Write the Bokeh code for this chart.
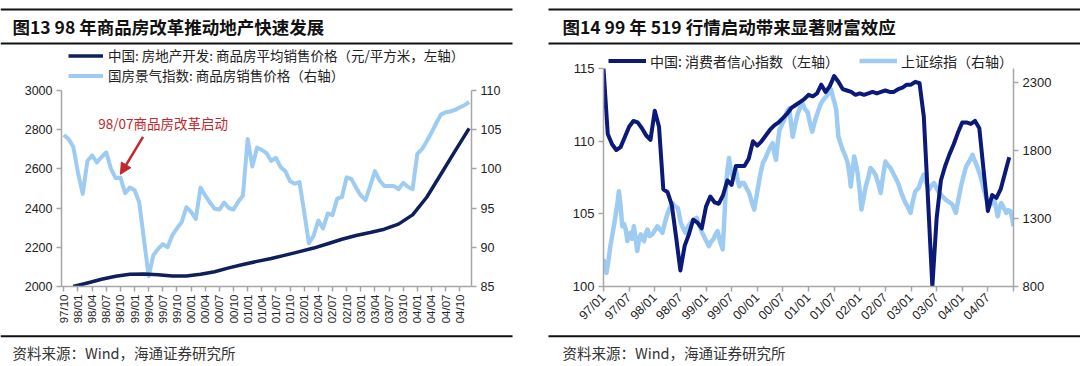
import math
from bokeh.plotting import figure
from bokeh.models import (Range1d, LinearAxis, FixedTicker, Label, BoxAnnotation,
                          Legend, LegendItem, Arrow, NormalHead)
from bokeh.layouts import row, column
from bokeh.embed import file_html
from bokeh.resources import INLINE

# ---------------- data: left chart (monthly, 97/10 .. 04/12) ----------------
left_tick_labels = ["97/10", "98/01", "98/04", "98/07", "98/10", "99/01", "99/04", "99/07",
                    "99/10", "00/01", "00/04", "00/07", "00/10", "01/01", "01/04", "01/07",
                    "01/10", "02/01", "02/04", "02/07", "02/10", "03/01", "03/04", "03/07",
                    "03/10", "04/01", "04/04", "04/07", "04/10"]
left_months = list(range(87))
house_index = [104.3, 103.8, 102.8, 99.5, 96.8, 101.0, 101.7, 100.8, 101.5, 102.1,
               100.0, 98.8, 98.9, 96.9, 97.6, 97.3, 95.7, 91.0, 86.3, 89.0,
               89.8, 90.4, 90.0, 91.5, 92.4, 93.2, 95.1, 94.5, 93.6, 97.6,
               96.6, 95.7, 94.9, 94.8, 95.7, 95.0, 94.8, 95.8, 96.6, 103.8,
               100.3, 102.7, 102.4, 102.0, 101.0, 101.4, 100.2, 99.7, 98.4, 98.1,
               98.3, 94.5, 90.5, 91.5, 93.4, 92.4, 94.3, 94.1, 96.2, 96.4,
               98.9, 98.7, 97.6, 96.6, 96.0, 97.8, 99.7, 98.5, 97.8, 97.8,
               97.8, 97.4, 98.2, 97.7, 97.4, 101.9, 102.5, 103.5, 104.6, 105.8,
               106.9, 107.2, 107.3, 107.5, 107.8, 108.1, 108.5]
price_months = [2, 5, 8, 11, 14, 17, 20, 23, 26, 29, 32, 35, 38, 41, 44, 47, 50, 53, 56,
                59, 62, 65, 68, 71, 74, 77, 80, 83, 86]
avg_price = [2000, 2018, 2037, 2052, 2062, 2064, 2060, 2054, 2053, 2062, 2075, 2095, 2112,
             2128, 2143, 2160, 2178, 2196, 2218, 2241, 2260, 2275, 2292, 2318, 2365, 2455,
             2572, 2690, 2806]

# ---------------- data: right chart (months since 97/01) ----------------
right_tick_labels = ["97/01", "97/07", "98/01", "98/07", "99/01", "99/07", "00/01", "00/07",
                     "01/01", "01/07", "02/01", "02/07", "03/01", "03/07", "04/01", "04/07"]
cci_months = list(range(96))
cci = [115.0, 110.5, 109.8, 109.4, 109.6, 110.3, 111.0, 111.4, 111.3, 110.9,
       110.4, 110.1, 112.1, 111.0, 106.7, 106.5, 105.6, 103.4, 101.1, 102.8,
       103.6, 104.6, 104.4, 104.0, 105.5, 106.2, 105.8, 105.7, 106.3, 107.3,
       107.0, 108.3, 108.3, 108.3, 108.8, 110.0, 109.7, 110.0, 110.4, 110.8,
       111.1, 111.3, 111.6, 111.9, 112.3, 112.5, 112.7, 112.9, 113.2, 113.1,
       113.3, 113.9, 113.4, 113.8, 114.5, 114.1, 113.6, 113.5, 113.4, 113.2,
       113.3, 113.2, 113.3, 113.4, 113.3, 113.4, 113.5, 113.4, 113.4, 113.6,
       113.7, 113.9, 113.9, 114.1, 114.0, 111.7, 105.9, 100.0, 104.7, 107.3,
       108.3, 109.1, 109.8, 110.6, 111.3, 111.3, 111.2, 111.4, 110.9, 108.0,
       105.2, 106.3, 106.1, 106.7, 107.8, 108.9]
sse_months = [0.0, 0.4, 0.7, 1.2, 1.6, 2.2, 2.8, 3.3, 3.6, 4.0, 4.4, 4.8, 5.2, 5.6, 6.0, 6.3,
              6.7, 7.1, 7.5, 7.9, 8.3, 8.7, 9.1, 9.5, 9.9, 10.3, 10.8, 11.4, 12.0, 12.6, 13.2,
              13.8, 14.3, 14.8, 15.4, 16.1, 16.7, 17.4, 18.1, 18.6, 19.2, 19.8, 20.4, 21.1,
              21.8, 22.4, 23.1, 23.8, 24.7, 25.2, 25.7, 26.2, 26.7, 27.3, 27.9, 28.3, 28.6,
              29.0, 29.4, 29.8, 30.2, 30.6, 31.0, 31.4, 31.8, 32.4, 32.9, 33.5, 34.1, 34.7,
              35.3, 35.7, 36.1, 36.7, 37.3, 37.9, 38.4, 39.0, 39.6, 40.0, 40.4, 40.8, 41.2,
              41.8, 42.3, 42.9, 43.5, 43.9, 44.3, 44.9, 45.5, 46.0, 46.6, 47.2, 47.8, 48.4,
              48.9, 49.3, 49.7, 50.3, 50.9, 51.5, 52.1, 52.9, 53.3, 53.7, 54.1, 54.5, 55.0,
              55.5, 56.0, 56.6, 57.2, 57.6, 57.9, 58.3, 58.7, 59.1, 59.5, 60.0, 60.4, 60.9,
              61.4, 62.0, 62.5, 63.1, 63.7, 64.3, 64.9, 65.5, 66.0, 66.6, 67.2, 68.0, 68.8,
              69.2, 69.6, 70.2, 70.7, 71.3, 71.9, 72.4, 73.0, 73.4, 73.8, 74.4, 75.0, 75.6,
              76.2, 76.8, 77.4, 78.0, 78.6, 79.4, 80.1, 80.9, 81.7, 82.1, 82.5, 83.1, 83.7,
              84.3, 84.9, 85.6, 86.0, 86.4, 86.8, 87.2, 87.8, 88.3, 88.9, 89.5, 89.9, 90.3,
              90.9, 91.5, 91.9, 92.3, 92.7, 93.1, 93.7, 94.3, 94.8, 95.3, 95.7, 96.0]
sse = [1000, 930, 900, 1000, 1096, 1200, 1315, 1420, 1498, 1390, 1242, 1260, 1218, 1133, 1180,
       1194, 1150, 1242, 1160, 1060, 1140, 1182, 1150, 1133, 1190, 1218, 1170, 1182, 1210, 1242,
       1220, 1194, 1260, 1315, 1370, 1413, 1390, 1377, 1267, 1230, 1194, 1240, 1267, 1290,
       1304, 1250, 1194, 1150, 1096, 1130, 1145, 1180, 1206, 1130, 1072, 1300, 1486,
       1650, 1742, 1650, 1607, 1640, 1656, 1580, 1534, 1560, 1559, 1520, 1486, 1420,
       1364, 1440, 1510, 1620, 1705, 1740, 1778, 1820, 1851, 1780, 1729, 1860, 1948,
       1990, 2021, 2080, 2107, 2000, 1899, 1990, 2070, 2110, 2143, 2100, 2080, 1990,
       1936, 1990, 2034, 2090, 2143, 2170, 2191, 2228, 2245, 2191, 2150, 2094, 1899,
       1850, 1802, 1760, 1705, 1620, 1534, 1650, 1753, 1700, 1632, 1500, 1364, 1450,
       1534, 1600, 1669, 1650, 1620, 1560, 1486, 1620, 1717, 1690, 1669, 1620, 1571,
       1540, 1498, 1450, 1413, 1380, 1340, 1420, 1498, 1510, 1523, 1580, 1620, 1560,
       1510, 1540, 1559, 1520, 1486, 1460, 1437, 1420, 1401, 1370, 1340, 1440, 1534,
       1610, 1680, 1717, 1740, 1766, 1730, 1705, 1650, 1607, 1530, 1461, 1420, 1388,
       1410, 1437, 1380, 1315, 1370, 1413, 1380, 1340, 1360, 1352, 1300, 1242]

titles = ["图13 98 年商品房改革推动地产快速发展", "图14 99 年 519 行情启动带来显著财富效应"]
source_text = "资料来源：Wind，海通证券研究所"

DARK_L = "#0E1F5B"
DARK_R = "#0B1A78"
LIGHT = "#9DCBF2"
AXIS = "#A6A6A6"
TXT = "#222222"
CJK = "Noto Sans CJK SC"
W = 1080


def style_axis(ax, size="12.5px"):
    ax.axis_line_color = AXIS
    ax.axis_line_width = 1.5
    ax.major_tick_line_color = AXIS
    ax.major_tick_line_width = 1.5
    ax.major_tick_out = 5
    ax.major_tick_in = 0
    ax.minor_tick_line_color = None
    ax.major_label_text_font = "Liberation Sans"
    ax.major_label_text_font_size = size
    ax.major_label_text_color = TXT
    ax.major_label_standoff = 4


def blank_fig(h, y_top_page):
    # a strip whose data coordinates equal page pixels
    f = figure(width=W, height=h, x_range=Range1d(0, W), y_range=Range1d(y_top_page + h, y_top_page),
               x_axis_type=None, y_axis_type=None, output_backend="svg", toolbar_location=None,
               min_border=0)
    f.outline_line_color = None
    f.grid.visible = False
    return f


def rule(f, x0, x1, yc):
    f.add_layout(BoxAnnotation(left=x0, right=x1, bottom=yc + 1, top=yc - 1,
                               fill_color="#111111", fill_alpha=1.0, line_color=None))


# ============================ header ============================
head = blank_fig(46, 0)
for x0, x1 in [(0, 512), (548, W)]:
    rule(head, x0, x1, 9)
    rule(head, x0, x1, 43)
for xt, t in zip([12, 562], titles):
    head.add_layout(Label(x=xt, y=26, text=t, text_font=CJK, text_font_size="17.5px",
                          text_font_style="bold", text_color="#111111", text_baseline="middle"))

# ============================ left chart ============================
p1 = figure(width=540, height=284, x_range=Range1d(-0.5, 86.5), y_range=Range1d(2000, 3223.4),
            output_backend="svg", toolbar_location=None,
            min_border_left=61, min_border_right=69, min_border_top=0, min_border_bottom=43)
p1.outline_line_color = None
p1.grid.visible = False
p1.extra_y_ranges = {"r": Range1d(85, 115.58)}
p1.add_layout(LinearAxis(y_range_name="r", ticker=FixedTicker(ticks=[85, 90, 95, 100, 105, 110]),
                         bounds=(85, 110)), "right")
p1.yaxis[0].ticker = FixedTicker(ticks=[2000, 2200, 2400, 2600, 2800, 3000])
p1.yaxis[0].bounds = (2000, 3000)
p1.xaxis[0].ticker = FixedTicker(ticks=list(range(0, 85, 3)))
p1.xaxis[0].major_label_overrides = {i * 3: lab for i, lab in enumerate(left_tick_labels)}
p1.xaxis[0].major_label_orientation = math.pi / 2
for ax in p1.xaxis + p1.yaxis:
    style_axis(ax)
p1.xaxis[0].major_label_text_font_size = "11.5px"
p1.xaxis[0].major_label_standoff = 3

r_light1 = p1.line(left_months, house_index, y_range_name="r", line_color=LIGHT, line_width=4,
                   line_join="round")
r_dark1 = p1.line(price_months, avg_price, line_color=DARK_L, line_width=3.5, line_join="round")

leg1 = Legend(items=[LegendItem(label="中国: 房地产开发: 商品房平均销售价格（元/平方米，左轴）", renderers=[r_dark1]),
                     LegendItem(label="国房景气指数: 商品房销售价格（右轴）", renderers=[r_light1])],
              location=(7, 201), orientation="vertical", padding=0, margin=0, spacing=0,
              glyph_width=35, glyph_height=19, label_height=19, label_standoff=5,
              label_text_font=CJK, label_text_font_size="13.5px", label_text_color=TXT,
              border_line_color=None, background_fill_alpha=0)
p1.add_layout(leg1, "center")

red = "#C0282D"
p1.add_layout(Arrow(end=NormalHead(size=11, fill_color=red, line_color=red),
                    x_start=16.8, y_start=2763, x_end=12.0, y_end=2572,
                    line_color=red, line_width=2.5))
p1.add_layout(Label(x=7.3, y=2834, text="98/07商品房改革启动", text_font=CJK,
                    text_font_size="13.5px", text_color=red, text_baseline="middle"))

# ============================ right chart ============================
p2 = figure(width=540, height=284, x_range=Range1d(0, 96), y_range=Range1d(100, 116.53),
            output_backend="svg", toolbar_location=None,
            min_border_left=63, min_border_right=67, min_border_top=0, min_border_bottom=43)
p2.outline_line_color = None
p2.grid.visible = False
p2.extra_y_ranges = {"r": Range1d(800, 2560.5)}
p2.add_layout(LinearAxis(y_range_name="r", ticker=FixedTicker(ticks=[800, 1300, 1800, 2300]),
                         bounds=(800, 2400)), "right")
p2.yaxis[0].ticker = FixedTicker(ticks=[100, 105, 110, 115])
p2.yaxis[0].bounds = (100, 115)
p2.xaxis[0].ticker = FixedTicker(ticks=list(range(0, 97, 6)))
ov = {i * 6: lab for i, lab in enumerate(right_tick_labels)}
ov[96] = ""
p2.xaxis[0].major_label_overrides = ov
p2.xaxis[0].major_label_orientation = math.pi / 4
for ax in p2.xaxis + p2.yaxis:
    style_axis(ax, "13px")
p2.xaxis[0].major_label_text_font_size = "12.5px"

r_light2 = p2.line(sse_months, sse, y_range_name="r", line_color=LIGHT, line_width=4.5,
                   line_join="round")
r_dark2 = p2.line(cci_months, cci, line_color=DARK_R, line_width=4, line_join="round")

leg2 = Legend(items=[LegendItem(label="中国: 消费者信心指数（左轴）", renderers=[r_dark2]),
                     LegendItem(label="上证综指（右轴）", renderers=[r_light2])],
              location=(5, 215.5), orientation="horizontal", padding=0, margin=0, spacing=20,
              glyph_width=38, glyph_height=19, label_height=19, label_standoff=4,
              label_text_font=CJK, label_text_font_size="14px", label_text_color=TXT,
              border_line_color=None, background_fill_alpha=0)
p2.add_layout(leg2, "center")

# ============================ footer ============================
foot = blank_fig(36, 330)
for x0, x1 in [(0, 512), (548, W)]:
    rule(foot, x0, x1, 335.7)
for xt in [12, 562]:
    foot.add_layout(Label(x=xt, y=352, text=source_text, text_font=CJK, text_font_size="14.5px",
                          text_color="#333333", text_baseline="middle"))

layout = column(head, row(p1, p2, spacing=0), foot, spacing=0)
open("out.html", "w").write(file_html(layout, INLINE))
